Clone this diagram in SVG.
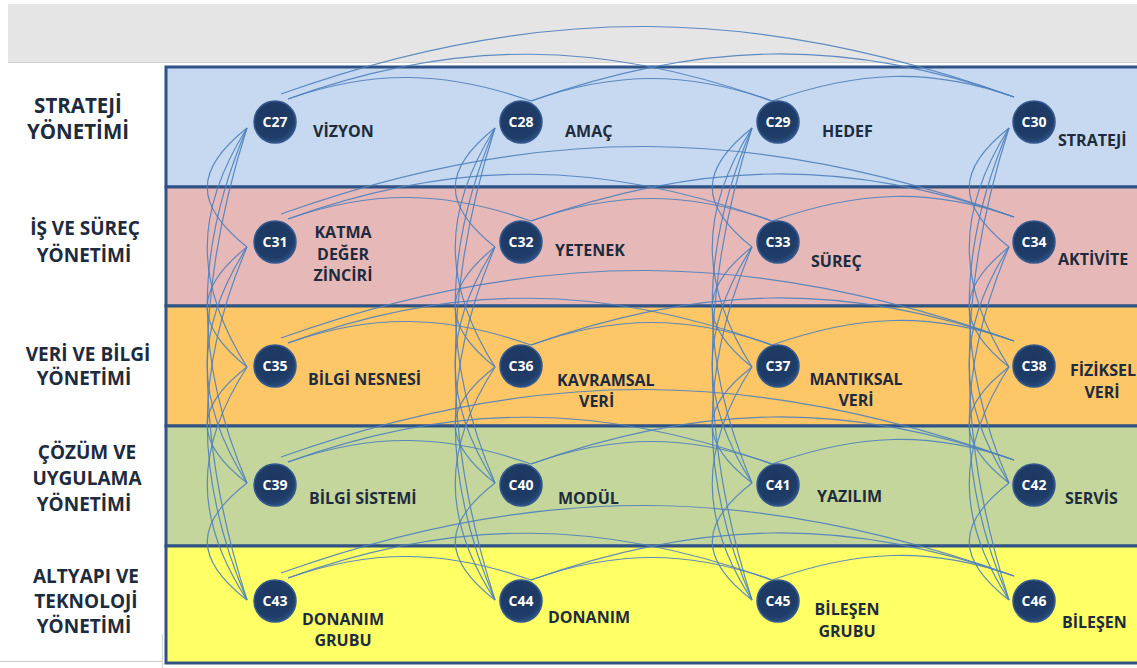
<svg xmlns="http://www.w3.org/2000/svg" width="1137" height="668" viewBox="0 0 1137 668">
  <defs>
    <radialGradient id="nodeFill" cx="45%" cy="40%" r="60%">
      <stop offset="0" stop-color="#1c3760"/>
      <stop offset="0.8" stop-color="#1f3d69"/>
      <stop offset="1" stop-color="#2c4f80"/>
    </radialGradient>
    <style>
      .band { stroke: #2f5384; stroke-width: 3; }
      .lane { font-family: "Open Sans", "Liberation Sans", sans-serif; font-weight: 700; font-size: 19px; fill: #1d2b3d; text-anchor: middle; }
      .lane-top { font-size: 20.5px; }
      .node circle { fill: url(#nodeFill); stroke: #33598e; stroke-width: 1.5; }
      .node .id { font-family: "Open Sans", "Liberation Sans", sans-serif; font-weight: 700; font-size: 14px; fill: #ffffff; text-anchor: middle; }
      .node .label { font-family: "Open Sans", "Liberation Sans", sans-serif; font-weight: 700; font-size: 16px; fill: #1d2b3d; }
      .node .mid { text-anchor: middle; }
      #connectors path { fill: none; stroke: #4f81bd; stroke-width: 1.2; stroke-opacity: 0.9; }
    </style>
  </defs>

  <!-- page background and header strip -->
  <rect x="0" y="0" width="1137" height="668" fill="#ffffff"/>
  <rect x="8" y="4" width="1129" height="58" fill="#e5e5e5"/>
  <line x1="8" y1="62.5" x2="1137" y2="62.5" stroke="#d2d2d2" stroke-width="1"/>
  <line x1="0" y1="661.5" x2="163" y2="661.5" stroke="#cfcfcf" stroke-width="1"/>
  <line x1="162.5" y1="634" x2="162.5" y2="668" stroke="#d6d6d6" stroke-width="1"/>

  <!-- swimlane bands -->
  <g id="bands">
    <rect class="band" x="166" y="67" width="980" height="120" fill="#c6d9f0"/>
    <rect class="band" x="166" y="187" width="980" height="119" fill="#e6b9b8"/>
    <rect class="band" x="166" y="306" width="980" height="120" fill="#fdc768"/>
    <rect class="band" x="166" y="426" width="980" height="120" fill="#c4d69c"/>
    <rect class="band" x="166" y="546" width="980" height="117" fill="#ffff66"/>
  </g>

  <!-- lane titles -->
  <g id="lane-titles">
    <text class="lane lane-top" x="78" y="113">STRATEJİ</text>
    <text class="lane lane-top" x="78" y="139">YÖNETİMİ</text>
    <text class="lane" x="85" y="235">İŞ VE SÜREÇ</text>
    <text class="lane" x="84" y="262">YÖNETİMİ</text>
    <text class="lane" x="88" y="361">VERİ VE BİLGİ</text>
    <text class="lane" x="84" y="385">YÖNETİMİ</text>
    <text class="lane" x="87" y="459">ÇÖZÜM VE</text>
    <text class="lane" x="87" y="485">UYGULAMA</text>
    <text class="lane" x="84" y="511">YÖNETİMİ</text>
    <text class="lane" x="86" y="583">ALTYAPI VE</text>
    <text class="lane" x="86" y="608">TEKNOLOJİ</text>
    <text class="lane" x="84" y="633">YÖNETİMİ</text>
  </g>

  <g id="connectors">
    <!-- row links, arching over each lane -->
    <path d="M288,99 C373,69 446,71 531,101"/>
    <path d="M288,99 C457,38 603,40 772,101"/>
    <path d="M281,94 C538,2 758,5 1014,97"/>
    <path d="M531,101 C615,71 688,71 772,101"/>
    <path d="M531,101 C700,41 845,37 1014,97"/>
    <path d="M772,101 C857,71 929,67 1014,97"/>

    <path d="M288,219 C373,189 446,191 531,221"/>
    <path d="M288,219 C457,158 603,160 772,221"/>
    <path d="M281,214 C538,122 758,125 1014,217"/>
    <path d="M531,221 C615,191 688,191 772,221"/>
    <path d="M531,221 C700,161 845,157 1014,217"/>
    <path d="M772,221 C857,191 929,187 1014,217"/>

    <path d="M288,343 C373,313 446,315 531,345"/>
    <path d="M288,343 C457,282 603,284 772,345"/>
    <path d="M281,338 C538,246 758,249 1014,341"/>
    <path d="M531,345 C615,315 688,315 772,345"/>
    <path d="M531,345 C700,285 845,281 1014,341"/>
    <path d="M772,345 C857,315 929,311 1014,341"/>

    <path d="M288,462 C373,432 446,434 531,464"/>
    <path d="M288,462 C457,401 603,403 772,464"/>
    <path d="M281,457 C538,365 758,368 1014,460"/>
    <path d="M531,464 C615,434 688,434 772,464"/>
    <path d="M531,464 C700,404 845,400 1014,460"/>
    <path d="M772,464 C857,434 929,430 1014,460"/>

    <path d="M288,578 C373,548 446,550 531,580"/>
    <path d="M288,578 C457,517 603,519 772,580"/>
    <path d="M281,573 C538,481 758,484 1014,576"/>
    <path d="M531,580 C615,550 688,550 772,580"/>
    <path d="M531,580 C700,520 845,516 1014,576"/>
    <path d="M772,580 C857,550 929,546 1014,576"/>

    <!-- column links, bowing out to the left of each column -->
    <path d="M247,128 C194,170 194,205 247,247"/>
    <path d="M247,128 C194,212 194,283 247,367"/>
    <path d="M247,128 C194,252 194,359 247,483"/>
    <path d="M247,128 C194,293 194,435 247,600"/>
    <path d="M247,247 C194,289 194,325 247,367"/>
    <path d="M247,247 C194,330 194,400 247,483"/>
    <path d="M247,247 C194,371 194,476 247,600"/>
    <path d="M247,367 C194,408 194,442 247,483"/>
    <path d="M247,367 C194,449 194,518 247,600"/>
    <path d="M247,483 C194,524 194,559 247,600"/>

    <path d="M495,128 C442,170 442,205 495,247"/>
    <path d="M495,128 C442,212 442,283 495,367"/>
    <path d="M495,128 C442,252 442,359 495,483"/>
    <path d="M495,128 C442,293 442,435 495,600"/>
    <path d="M495,247 C442,289 442,325 495,367"/>
    <path d="M495,247 C442,330 442,400 495,483"/>
    <path d="M495,247 C442,371 442,476 495,600"/>
    <path d="M495,367 C442,408 442,442 495,483"/>
    <path d="M495,367 C442,449 442,518 495,600"/>
    <path d="M495,483 C442,524 442,559 495,600"/>

    <path d="M752,128 C699,170 699,205 752,247"/>
    <path d="M752,128 C699,212 699,283 752,367"/>
    <path d="M752,128 C699,252 699,359 752,483"/>
    <path d="M752,128 C699,293 699,435 752,600"/>
    <path d="M752,247 C699,289 699,325 752,367"/>
    <path d="M752,247 C699,330 699,400 752,483"/>
    <path d="M752,247 C699,371 699,476 752,600"/>
    <path d="M752,367 C699,408 699,442 752,483"/>
    <path d="M752,367 C699,449 699,518 752,600"/>
    <path d="M752,483 C699,524 699,559 752,600"/>

    <path d="M1009,128 C956,170 956,205 1009,247"/>
    <path d="M1009,128 C956,212 956,283 1009,367"/>
    <path d="M1009,128 C956,252 956,359 1009,483"/>
    <path d="M1009,128 C956,293 956,435 1009,600"/>
    <path d="M1009,247 C956,289 956,325 1009,367"/>
    <path d="M1009,247 C956,330 956,400 1009,483"/>
    <path d="M1009,247 C956,371 956,476 1009,600"/>
    <path d="M1009,367 C956,408 956,442 1009,483"/>
    <path d="M1009,367 C956,449 956,518 1009,600"/>
    <path d="M1009,483 C956,524 956,559 1009,600"/>
  </g>

  <!-- strategy lane -->
  <g id="C27" class="node">
    <circle cx="275" cy="122" r="21"/>
    <text class="id" x="275" y="127">C27</text>
    <text class="label" x="313" y="137">VİZYON</text>
  </g>
  <g id="C28" class="node">
    <circle cx="521" cy="122" r="21"/>
    <text class="id" x="521" y="127">C28</text>
    <text class="label" x="565" y="137">AMAÇ</text>
  </g>
  <g id="C29" class="node">
    <circle cx="778" cy="122" r="21"/>
    <text class="id" x="778" y="127">C29</text>
    <text class="label" x="822" y="137">HEDEF</text>
  </g>
  <g id="C30" class="node">
    <circle cx="1034" cy="122" r="21"/>
    <text class="id" x="1034" y="127">C30</text>
    <text class="label" x="1058" y="146">STRATEJİ</text>
  </g>

  <!-- business and process lane -->
  <g id="C31" class="node">
    <circle cx="275" cy="242" r="21"/>
    <text class="id" x="275" y="247">C31</text>
    <text class="label mid" x="343" y="238">KATMA</text>
    <text class="label mid" x="343" y="260">DEĞER</text>
    <text class="label mid" x="343" y="281">ZİNCİRİ</text>
  </g>
  <g id="C32" class="node">
    <circle cx="521" cy="242" r="21"/>
    <text class="id" x="521" y="247">C32</text>
    <text class="label" x="555" y="256">YETENEK</text>
  </g>
  <g id="C33" class="node">
    <circle cx="778" cy="242" r="21"/>
    <text class="id" x="778" y="247">C33</text>
    <text class="label" x="811" y="267">SÜREÇ</text>
  </g>
  <g id="C34" class="node">
    <circle cx="1034" cy="242" r="21"/>
    <text class="id" x="1034" y="247">C34</text>
    <text class="label" x="1058" y="265">AKTİVİTE</text>
  </g>

  <!-- data and information lane -->
  <g id="C35" class="node">
    <circle cx="275" cy="366" r="21"/>
    <text class="id" x="275" y="371">C35</text>
    <text class="label" x="308" y="385">BİLGİ NESNESİ</text>
  </g>
  <g id="C36" class="node">
    <circle cx="521" cy="366" r="21"/>
    <text class="id" x="521" y="371">C36</text>
    <text class="label" x="557" y="386">KAVRAMSAL</text>
    <text class="label" x="579" y="407">VERİ</text>
  </g>
  <g id="C37" class="node">
    <circle cx="778" cy="366" r="21"/>
    <text class="id" x="778" y="371">C37</text>
    <text class="label mid" x="856" y="385">MANTIKSAL</text>
    <text class="label mid" x="856" y="406">VERİ</text>
  </g>
  <g id="C38" class="node">
    <circle cx="1034" cy="366" r="21"/>
    <text class="id" x="1034" y="371">C38</text>
    <text class="label mid" x="1103" y="376">FİZİKSEL</text>
    <text class="label mid" x="1102" y="398">VERİ</text>
  </g>

  <!-- solution and application lane -->
  <g id="C39" class="node">
    <circle cx="275" cy="485" r="21"/>
    <text class="id" x="275" y="490">C39</text>
    <text class="label" x="309" y="504">BİLGİ SİSTEMİ</text>
  </g>
  <g id="C40" class="node">
    <circle cx="521" cy="485" r="21"/>
    <text class="id" x="521" y="490">C40</text>
    <text class="label" x="558" y="504">MODÜL</text>
  </g>
  <g id="C41" class="node">
    <circle cx="778" cy="485" r="21"/>
    <text class="id" x="778" y="490">C41</text>
    <text class="label" x="817" y="502">YAZILIM</text>
  </g>
  <g id="C42" class="node">
    <circle cx="1034" cy="485" r="21"/>
    <text class="id" x="1034" y="490">C42</text>
    <text class="label" x="1065" y="504">SERVİS</text>
  </g>

  <!-- infrastructure and technology lane -->
  <g id="C43" class="node">
    <circle cx="275" cy="601" r="21"/>
    <text class="id" x="275" y="606">C43</text>
    <text class="label mid" x="343" y="625">DONANIM</text>
    <text class="label mid" x="343" y="646">GRUBU</text>
  </g>
  <g id="C44" class="node">
    <circle cx="521" cy="601" r="21"/>
    <text class="id" x="521" y="606">C44</text>
    <text class="label" x="548" y="623">DONANIM</text>
  </g>
  <g id="C45" class="node">
    <circle cx="778" cy="601" r="21"/>
    <text class="id" x="778" y="606">C45</text>
    <text class="label mid" x="847" y="615">BİLEŞEN</text>
    <text class="label mid" x="847" y="637">GRUBU</text>
  </g>
  <g id="C46" class="node">
    <circle cx="1034" cy="601" r="21"/>
    <text class="id" x="1034" y="606">C46</text>
    <text class="label" x="1062" y="628">BİLEŞEN</text>
  </g>
</svg>
